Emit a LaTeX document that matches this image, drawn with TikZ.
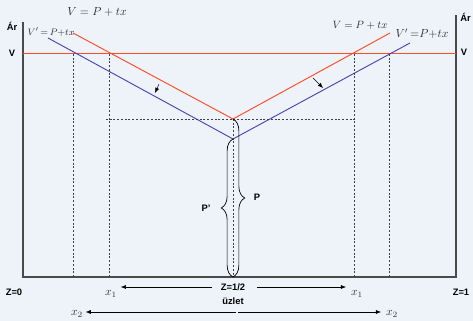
\documentclass[tikz,border=0pt]{standalone}
\usepackage{fontspec}
\setsansfont{Liberation Sans}
\usepackage{tikz}
\usetikzlibrary{arrows.meta,decorations.pathreplacing}
\definecolor{bgblue}{HTML}{EDF3F9}
\definecolor{supply}{HTML}{FF4A26}
\definecolor{shifted}{HTML}{4A46B4}
\definecolor{axisgray}{HTML}{4A4A4A}

\begin{document}
\begin{tikzpicture}[
  x=0.03cm, y=-0.03cm,
  axis/.style={draw=axisgray,line width=1pt},
  price/.style={draw=supply,line width=0.8pt},
  newprice/.style={draw=shifted,line width=0.8pt},
  guide/.style={draw=black!75,line width=0.45pt,dash pattern=on 1.6pt off 1.6pt},
  lbl/.style={font=\sffamily\bfseries\fontsize{8}{9}\selectfont,inner sep=1pt},
  eq/.style={inner sep=0pt,text=black!80},
  arrow/.style={-{Latex[length=4.5pt,width=3.5pt]},line width=0.5pt},
  moveto/.style={-{Latex[length=4.5pt,width=3.5pt]},line width=0.4pt},
  bracket/.style={decorate,decoration={brace,amplitude=10pt},line width=0.6pt}
]
\fill[bgblue] (0,0) rectangle (473,321);
\useasboundingbox (0,0) rectangle (473,321);

% frame
\coordinate (topL) at (23,22);
\coordinate (botL) at (23,277);
\coordinate (topR) at (456,15);
\coordinate (botR) at (456,277);
\coordinate (mid) at (233,277);
\draw[axis] (topL) -- (botL) -- (botR) -- (topR);

\node[lbl] (arL) at (12,26) {Ár};
\node[lbl,anchor=west] (arR) at (459,17) {Ár};
\node[lbl] (vL) at (12,53) {V};
\node[lbl] (vR) at (464,52) {V};

% reservation price V
\coordinate (vA) at (23,53.3);
\coordinate (vB) at (456,53.3);
\draw[draw=supply,line width=1pt] (vA) -- (vB);

% price lines
\coordinate (rL) at (73,33);
\coordinate (rM) at (233,119);
\coordinate (rR) at (390,33);
\coordinate (bL) at (48,38);
\coordinate (bM) at (233,139);
\coordinate (bR) at (410,43);
\draw[price] (rL) -- (rM) -- (rR);
\draw[newprice] (bL) -- (bM) -- (bR);

% guides
\foreach \gx in {73,109,354,389}
  \draw[guide] (\gx,54) -- (\gx,277);
\coordinate (hA) at (106,119);
\coordinate (hB) at (355,119);
\draw[guide] (hA) -- (hB);
\draw[guide] (rM) -- (mid);

% shift arrows
\coordinate (sa) at (159,84);
\coordinate (sb) at (155,93);
\coordinate (sc) at (313,78);
\coordinate (sd) at (323,88);
\draw[moveto] (sa) -- (sb);
\draw[moveto] (sc) -- (sd);

% equations
\node[eq] (eqTop) at (97,12) {$V = P + tx$};
\node[eq] (eqLeft) at (51,32) {\fontsize{8.5}{9}\selectfont$V'\,{=}\,P{+}tx$};
\node[eq] (eqRed) at (360,25) {\fontsize{9}{10}\selectfont$V = P + tx$};
\node[eq] (eqBlue) at (422,34) {$V'\,{=}P{+}tx$};

% braces
\draw[bracket] (rM) -- (mid);
\draw[bracket] (mid) -- (bM);
\node[lbl] (pLab) at (257,197) {P};
\node[lbl] (qLab) at (206,208) {P'};

% bottom labels
\node[lbl] (z0) at (14,292) {Z=0};
\node[lbl] (z1) at (461,292) {Z=1};
\node[lbl] (zh) at (233,287) {Z=1/2};
\node[lbl] (shop) at (233,301) {üzlet};

\node[eq] (x1L) at (111,294) {$x_1$};
\node[eq] (x1R) at (357,294) {$x_1$};
\node[eq] (x2L) at (77,314) {$x_2$};
\node[eq] (x2R) at (392,314) {$x_2$};

\coordinate (aL) at (212,287);
\coordinate (aR) at (257,287);
\coordinate (cL) at (236,312);
\coordinate (cR) at (238,312);
\draw[arrow] (aL) -- ([xshift=3pt]x1L.east |- aL);
\draw[arrow] (aR) -- ([xshift=-4pt]x1R.west |- aR);
\draw[arrow] (cL) -- ([xshift=2pt]x2L.east |- cL);
\draw[arrow] (cR) -- ([xshift=-4pt]x2R.west |- cR);
\end{tikzpicture}
\end{document}
